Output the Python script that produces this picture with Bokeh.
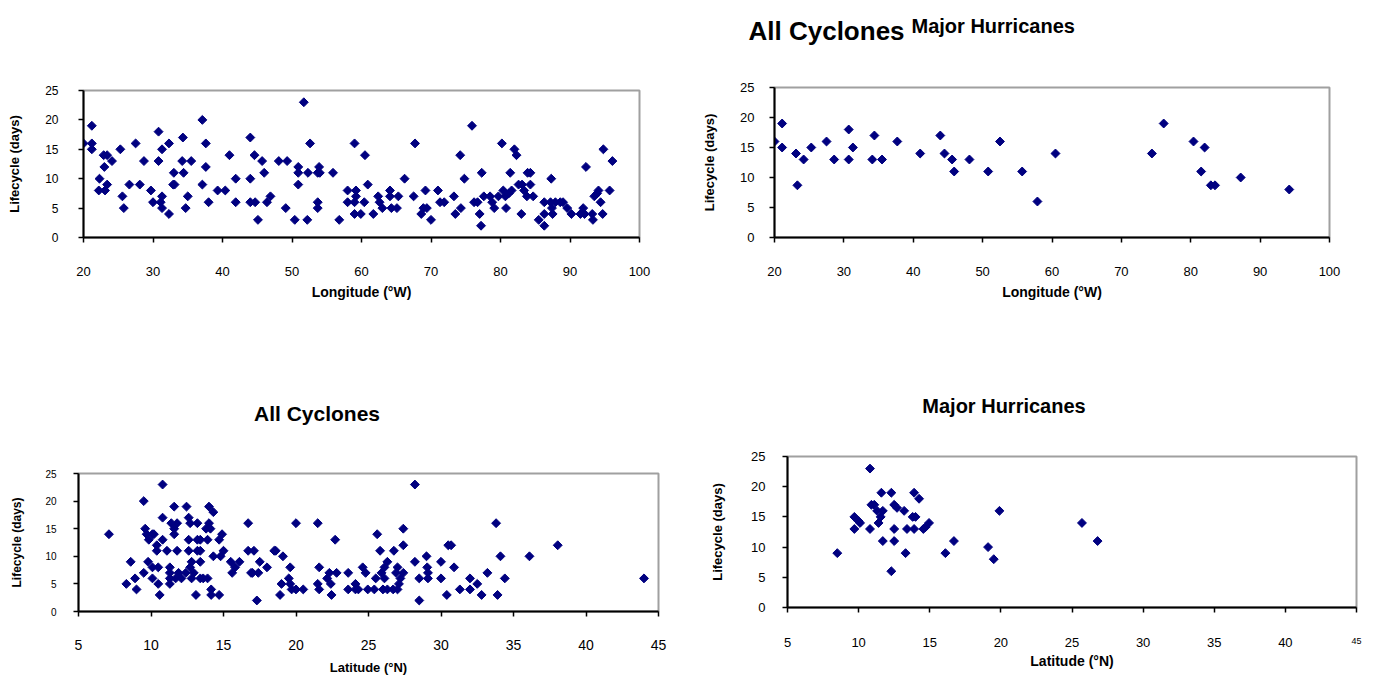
import math
from bokeh.plotting import figure
from bokeh.models import FixedTicker, Range1d, ColumnDataSource, LinearAxis
from bokeh.core.properties import value
from bokeh.layouts import column, row
from bokeh.embed import file_html
from bokeh.resources import INLINE

FONT = "Liberation Sans"
NAVY = "#000080"

# ---------------- data ----------------
# All cyclones: longitude (°W) vs lifecycle (days)
lon_all = [20, 21.2, 21.2, 21.2, 22.3, 22.2, 22.9, 23.4, 23.0, 23.1, 23.4, 24.1, 25.3, 25.6, 25.8,
           26.6, 27.5, 28.1, 28.7, 29.7, 30.0, 30.8, 30.8, 31.1, 31.3, 31.3, 31.3, 32.3, 32.3, 32.9,
           33.1, 33.0, 34.2, 34.3, 34.4, 34.7, 35.0, 35.5, 37.1, 37.1, 37.6, 37.6, 38.0, 39.3, 40.4,
           41.0, 41.9, 41.9, 44.0, 44.0, 44.0, 44.6, 44.7, 45.1, 45.7, 46.0, 46.4, 46.9, 48.1, 49.1,
           49.3, 50.4, 50.9, 50.9, 50.9, 52.2, 51.7, 52.6, 52.3, 53.7, 53.9, 54.0, 53.7, 53.7, 55.9,
           56.8, 58.0, 58.0, 59.0, 59.2, 59.2, 59.0, 59.0, 59.9, 60.4, 60.5, 60.9, 61.7, 62.4, 62.6,
           63.0, 64.1, 64.1, 64.3, 65.1, 65.3, 66.2, 67.5, 67.7, 68.6, 68.9, 69.2, 69.4, 70.0, 71.0,
           71.3, 71.9, 73.3, 73.5, 74.2, 74.3, 74.8, 75.9, 76.2, 76.7, 77.0, 77.3, 77.2, 77.6, 78.5,
           78.8, 79.1, 79.7, 80.2, 80.4, 80.7, 80.8, 81.4, 81.2, 81.6, 82.0, 82.3, 82.6, 83.1, 83.0,
           83.4, 83.8, 83.9, 84.3, 84.3, 84.7, 85.5, 86.3, 86.3, 86.3, 87.3, 87.2, 87.4, 87.5, 87.9,
           88.6, 89.0, 89.6, 90.2, 91.5, 91.9, 92.3, 92.1, 93.2, 93.3, 93.5, 93.9, 94.1, 94.4, 94.7,
           94.8, 95.7, 96.1]
days_lon_all = [16, 19, 16, 15, 10, 8, 14, 14, 12, 8, 9, 13, 15, 7, 5,
                9, 16, 9, 13, 8, 6, 13, 18, 6, 15, 7, 5, 16, 4, 9,
                9, 11, 13, 17, 11, 5, 7, 13, 20, 9, 16, 12, 6, 8, 8,
                14, 10, 6, 17, 10, 6, 14, 6, 3, 13, 11, 6, 7, 13, 5,
                13, 3, 12, 11, 9, 3, 23, 16, 11, 11, 12, 11, 6, 5, 11,
                3, 8, 6, 16, 8, 7, 6, 4, 4, 6, 14, 9, 4, 7, 6,
                5, 8, 7, 5, 5, 7, 10, 7, 16, 4, 5, 8, 5, 3, 8,
                6, 6, 7, 4, 14, 5, 10, 19, 6, 6, 4, 11, 2, 7, 7,
                6, 5, 7, 16, 8, 7, 5, 11, 7.5, 8, 15, 14, 9, 9, 4,
                8, 7, 11, 11, 9, 7, 3, 2, 4, 6, 10, 6, 5, 4, 6,
                6, 6, 5, 4, 4, 5, 12, 4, 4, 3, 7, 7.5, 8, 6, 4,
                15, 8, 13]

# Major hurricanes: longitude (°W) vs lifecycle (days)
lon_major = [20, 21.1, 21.1, 23.1, 23.3, 24.2, 25.3, 27.5, 28.6, 30.7, 30.7, 31.3, 34.1, 34.4, 35.5,
             37.7, 41.0, 43.9, 44.5, 45.6, 45.9, 48.1, 50.8, 52.5, 55.7, 57.9, 60.5, 74.4, 76.1, 80.4,
             82.0, 81.5, 82.9, 83.5, 87.2, 94.2]
days_lon_major = [16, 19, 15, 14, 8.7, 13, 15, 16, 13, 18, 13, 15, 13, 17, 13,
                  16, 14, 17, 14, 13, 11, 13, 11, 16, 11, 6, 14, 14, 19, 16,
                  15, 11, 8.7, 8.7, 10, 8]

# All cyclones: latitude (°N) vs lifecycle (days)
lat_all = [7.1, 8.3, 8.6, 8.9, 9.0, 9.5, 9.5, 9.6, 9.7, 9.8, 9.85, 10.1, 10.2, 10.1, 10.1,
           10.4, 10.4, 10.5, 10.6, 10.5, 10.8, 10.8, 10.8, 11.1, 11.3, 11.3, 11.3, 11.3, 11.4, 11.6,
           11.6, 11.6, 11.7, 11.8, 11.8, 11.9, 12.1, 12.4, 12.45, 12.6, 12.6, 12.6, 12.7, 12.7, 12.8,
           12.8, 12.95, 13.1, 13.2, 13.2, 13.2, 13.4, 13.4, 13.4, 13.4, 13.6, 13.9, 13.9, 13.8, 14.0,
           14.0, 14.1, 14.15, 14.15, 14.3, 14.3, 14.7, 14.7, 14.8, 14.9, 15.0, 15.5, 15.6, 15.8, 16.1,
           16.7, 16.7, 16.9, 17.1, 17.0, 17.4, 17.3, 17.5, 18.0, 18.5, 18.6, 18.9, 19.0, 19.1, 19.5,
           19.6, 19.6, 19.7, 20.0, 20.0, 20.5, 21.5, 21.5, 21.6, 21.6, 22.15, 22.3, 22.4, 22.45, 22.7,
           22.8, 23.6, 23.6, 24.1, 24.1, 24.3, 24.6, 24.8, 24.95, 25.4, 25.5, 25.6, 25.8, 25.9, 26.1,
           26.1, 26.0, 26.3, 26.3, 26.7, 26.75, 26.9, 27.0, 27.0, 27.1, 27.2, 27.4, 27.4, 27.4, 28.2,
           28.2, 28.5, 28.5, 29.0, 29.05, 29.1, 29.1, 30.0, 30.0, 30.4, 30.5, 30.7, 30.9, 31.3, 32.0,
           32.0, 32.5, 32.8, 33.2, 33.8, 33.9, 34.1, 34.4, 36.1, 38.05, 44.0]
days_lat_all = [14, 5, 9, 6, 4, 20, 7, 15, 14, 9, 13, 14, 14, 6, 8,
                12, 11, 5, 3, 8, 23, 17, 13, 11, 8, 7, 6, 5, 16, 15,
                14, 19, 6, 16, 11, 7, 6, 7, 19, 17, 13, 11, 8, 16, 9,
                6, 7, 3, 13, 11, 16, 9, 6, 11, 13, 6, 13, 6, 15, 19,
                16, 15, 3, 4, 18, 10, 3, 13, 10, 14, 11, 9, 7, 8, 9,
                16, 11, 7, 11, 7, 7, 2, 9, 8, 11, 11, 3, 5, 10, 6,
                8, 5, 4, 16, 4, 4, 16, 5, 8, 4, 6, 7, 5, 3, 13,
                7, 7, 4, 5, 4, 4, 8, 7, 4, 4, 6, 14, 11, 7, 8,
                6, 4, 9, 4, 4, 11, 7, 8, 4, 5, 6, 15, 12, 7, 23,
                9, 2, 6, 10, 8, 7, 6, 9, 6, 3, 12, 12, 8, 4, 6,
                4, 5, 3, 7, 16, 3, 10, 6, 10, 12, 6]

# Major hurricanes: latitude (°N) vs lifecycle (days)
lat_major = [8.5, 10.8, 9.7, 9.7, 10.1, 10.0, 10.8, 10.9, 11.1, 11.3, 11.4, 11.55, 11.6, 11.7, 11.7,
             12.3, 12.3, 12.5, 12.5, 12.5, 12.7, 13.2, 13.3, 13.4, 13.8, 13.9, 14.0, 13.9, 14.25, 14.55,
             14.7, 14.95, 16.1, 16.7, 19.1, 19.5, 19.9, 25.7, 26.8]
days_lat_major = [9, 23, 13, 15, 14, 14.3, 13, 17, 17, 16, 14, 15, 19, 16, 11,
                  19, 6, 17, 13, 11, 16.5, 16, 9, 13, 15, 13, 15, 19, 18, 13,
                  13.3, 14, 9, 11, 10, 8, 16, 14, 11]

lon_ticks = [20, 30, 40, 50, 60, 70, 80, 90, 100]
lat_ticks = [5, 10, 15, 20, 25, 30, 35, 40, 45]
day_ticks = [0, 5, 10, 15, 20, 25]

y_title = "Lifecycle (days)"
lon_title = "Longitude (°W)"
lat_title = "Latitude (°N)"


def panel(w, h, bl, br, bt, bb, xr, xticks, xs, ys, xlab,
          ytick_size, ytick_std, ylab_size, ylab_std,
          xtick_size, xtick_std, xlab_size, xlab_std):
    p = figure(width=w, height=h, output_backend="svg", toolbar_location=None,
               x_range=Range1d(*xr), y_range=Range1d(0, 25),
               min_border_left=bl, min_border_right=br,
               min_border_top=bt, min_border_bottom=bb)
    p.frame_align = False
    p.xgrid.visible = False
    p.ygrid.visible = False
    p.outline_line_color = "#a0a0a0"
    p.outline_line_width = 2
    p.background_fill_color = "white"
    p.border_fill_color = "white"
    src = ColumnDataSource(dict(x=xs, y=ys))
    p.scatter("x", "y", source=src, marker="square", size=6.3, angle=math.pi / 4,
              fill_color=NAVY, line_color=NAVY, line_width=1)
    for ax in (p.xaxis[0], p.yaxis[0]):
        ax.axis_line_color = "black"
        ax.axis_line_width = 2
        ax.major_tick_line_color = "black"
        ax.major_tick_line_width = 1.5
        ax.major_tick_in = 0
        ax.major_tick_out = 5
        ax.minor_tick_line_color = None
        ax.major_label_text_font = FONT
        ax.major_label_text_color = "black"
        ax.axis_label_text_font = FONT
        ax.axis_label_text_font_style = "bold"
        ax.axis_label_text_color = "black"
    p.xaxis.ticker = FixedTicker(ticks=xticks)
    p.yaxis.ticker = FixedTicker(ticks=day_ticks)
    p.yaxis.major_label_text_font_size = ytick_size
    p.yaxis.major_label_standoff = ytick_std
    p.yaxis.axis_label = y_title
    p.yaxis.axis_label_text_font_size = ylab_size
    p.yaxis.axis_label_standoff = ylab_std
    p.xaxis.major_label_text_font_size = xtick_size
    p.xaxis.major_label_standoff = xtick_std
    if xlab is not None:
        p.xaxis.axis_label = xlab
        p.xaxis.axis_label_text_font_size = xlab_size
        p.xaxis.axis_label_standoff = xlab_std
    return p


def strip(w, h, items):
    """A figure with no axes that only carries title texts (pixel coordinates, y downwards)."""
    s = figure(width=w, height=h, output_backend="svg", toolbar_location=None,
               x_range=Range1d(0, w), y_range=Range1d(h, 0),
               x_axis_type=None, y_axis_type=None,
               min_border_left=0, min_border_right=0, min_border_top=0, min_border_bottom=0)
    s.frame_align = False
    s.xgrid.visible = False
    s.ygrid.visible = False
    s.outline_line_color = None
    s.background_fill_color = "white"
    s.border_fill_color = "white"
    for (txt, x, y, size, align) in items:
        s.text(x=[x], y=[y], text=[txt], text_font=value(FONT), text_font_size=value(size),
               text_font_style="bold", text_color="black", text_align=align,
               text_baseline="alphabetic")
    return s


# top-left: all cyclones vs longitude
pA = panel(698, 310, 83, 59, 90, 73, (20, 100), lon_ticks, lon_all, days_lon_all, lon_title,
           "12px", 20, "13px", 20, "13px", 24, "14px", 5)

# top-right: titles + major hurricanes vs longitude
tB = strip(668, 45, [("All Cyclones", 50, 30, "26px", "left"),
                     ("Major Hurricanes", 213, 25, "20px", "left")])
pB = panel(668, 265, 76, 37, 42, 73, (20, 100), lon_ticks, lon_major, days_lon_major, lon_title,
           "13px", 15, "13px", 20, "13px", 24, "14px", 5)

# bottom-left: title + all cyclones vs latitude
tC = strip(698, 120, [("All Cyclones", 316.5, 103, "21px", "center")])
pC = panel(698, 248, 78, 40, 43, 67, (5, 45), lat_ticks, lat_all, days_lat_all, lat_title,
           "10px", 17, "12px", 18, "14px", 23, "13px", 7)

# bottom-right: title + major hurricanes vs latitude
tD = strip(668, 110, [("Major Hurricanes", 305.5, 95, "20px", "center")])
pD = panel(668, 258, 89, 10, 36, 71, (5, 45), lat_ticks, lat_major, days_lat_major, None,
           "13px", 17, "13px", 23, "13px", 25, "14px", 5)
pD.xaxis.major_label_overrides = {45: ""}
# second (label-only) axis: the small end label "45" and the axis title
ax45 = LinearAxis(ticker=FixedTicker(ticks=[45]), axis_line_color=None,
                  major_tick_line_color=None, minor_tick_line_color=None,
                  major_label_text_font=FONT, major_label_text_font_size="9px",
                  major_label_text_color="black", major_label_standoff=-18,
                  axis_label=lat_title, axis_label_text_font=FONT,
                  axis_label_text_font_style="bold", axis_label_text_font_size="14px",
                  axis_label_text_color="black", axis_label_standoff=6)
pD.add_layout(ax45, "below")

layout = column(row(pA, column(tB, pB)), row(column(tC, pC), column(tD, pD)))

open("out.html", "w").write(file_html(layout, INLINE))
